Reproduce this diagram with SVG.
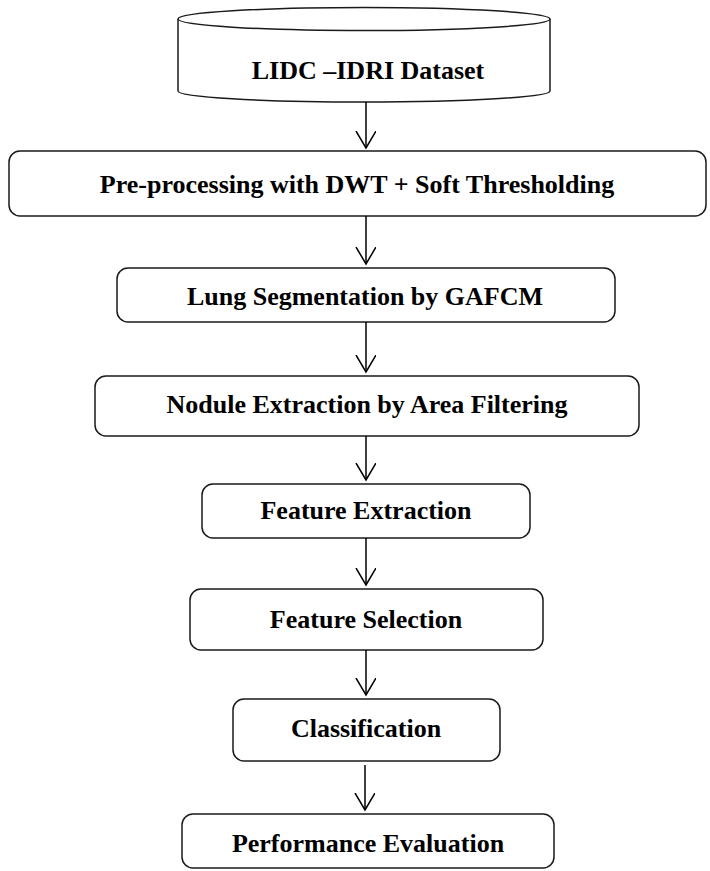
<svg xmlns="http://www.w3.org/2000/svg" width="710" height="871" viewBox="0 0 710 871">
  <style>
    .box { fill: #ffffff; stroke: #1a1a1a; stroke-width: 1.5; }
    .lbl { font-family: "Liberation Serif", "Times New Roman", serif; font-weight: bold; font-size: 26px; fill: #000000; text-anchor: middle; }
    .wire { fill: none; stroke: #000000; stroke-width: 1.5; }
  </style>
  <defs>
    <marker id="vhead" markerWidth="24" markerHeight="24" refX="17" refY="10" orient="auto" markerUnits="userSpaceOnUse">
      <path d="M0,0 L17,10 L0,20" fill="none" stroke="#000000" stroke-width="1.5"/>
    </marker>
  </defs>
  <rect width="710" height="871" fill="#ffffff"/>

  <!-- data source cylinder -->
  <g id="dataset">
    <path class="box" d="M178,19 L178,91 A186,11 0 0 0 550,91 L550,19"/>
    <ellipse class="box" cx="364" cy="19" rx="186" ry="11.5"/>
    <text class="lbl" x="368" y="79">LIDC –IDRI Dataset</text>
  </g>

  <g id="preprocessing">
    <rect class="box" x="9" y="151" width="697" height="65" rx="11"/>
    <text class="lbl" x="357" y="193">Pre-processing with DWT + Soft Thresholding</text>
  </g>

  <g id="lung-segmentation">
    <rect class="box" x="117" y="268" width="498" height="54" rx="11"/>
    <text class="lbl" x="365" y="305">Lung Segmentation by GAFCM</text>
  </g>

  <g id="nodule-extraction">
    <rect class="box" x="95" y="376" width="544" height="60" rx="11"/>
    <text class="lbl" x="367" y="413">Nodule Extraction by Area Filtering</text>
  </g>

  <g id="feature-extraction">
    <rect class="box" x="202" y="484" width="328" height="54" rx="11"/>
    <text class="lbl" x="366" y="519">Feature Extraction</text>
  </g>

  <g id="feature-selection">
    <rect class="box" x="190" y="589" width="353" height="61" rx="11"/>
    <text class="lbl" x="366" y="628">Feature Selection</text>
  </g>

  <g id="classification">
    <rect class="box" x="233" y="699" width="267" height="62" rx="11"/>
    <text class="lbl" x="366" y="737">Classification</text>
  </g>

  <g id="performance-evaluation">
    <rect class="box" x="182" y="814" width="372" height="54" rx="11"/>
    <text class="lbl" x="368" y="852">Performance Evaluation</text>
  </g>

  <!-- flow connectors -->
  <g id="connectors">
    <line class="wire" x1="366" y1="102" x2="366" y2="148" marker-end="url(#vhead)"/>
    <line class="wire" x1="366" y1="216" x2="366" y2="264" marker-end="url(#vhead)"/>
    <line class="wire" x1="366" y1="322" x2="366" y2="372" marker-end="url(#vhead)"/>
    <line class="wire" x1="366" y1="436" x2="366" y2="480" marker-end="url(#vhead)"/>
    <line class="wire" x1="366" y1="538" x2="366" y2="585" marker-end="url(#vhead)"/>
    <line class="wire" x1="366" y1="650" x2="366" y2="695" marker-end="url(#vhead)"/>
    <line class="wire" x1="365" y1="765" x2="365" y2="810" marker-end="url(#vhead)"/>
  </g>
</svg>
